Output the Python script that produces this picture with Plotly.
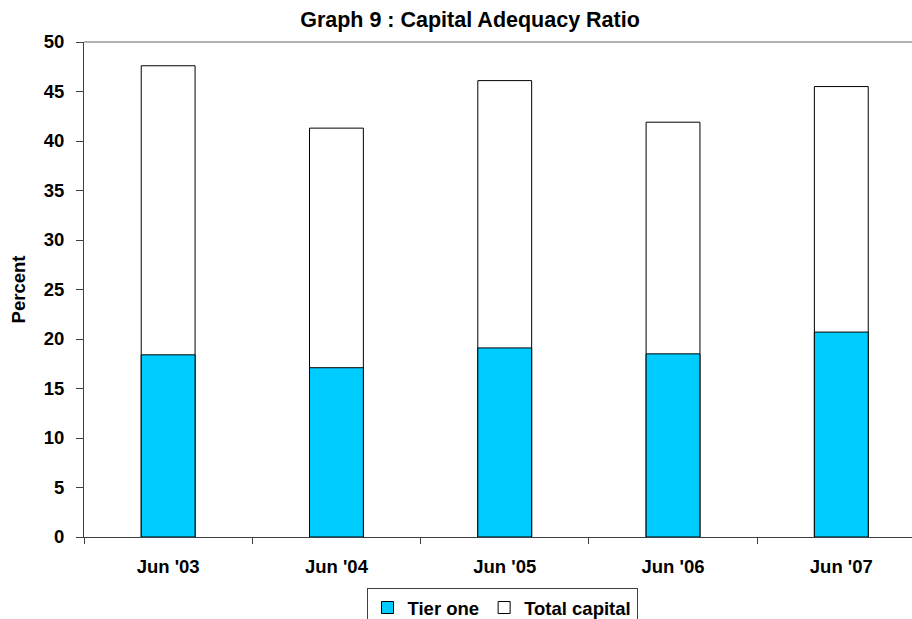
import plotly.graph_objects as go

# Capital adequacy ratios by year (percent)
periods = ["Jun '03", "Jun '04", "Jun '05", "Jun '06", "Jun '07"]
tier_one = [18.4, 17.1, 19.1, 18.5, 20.7]
total_capital = [47.6, 41.3, 46.1, 41.9, 45.5]

FONT = "Liberation Sans, Arial, sans-serif"
W, H = 912, 619
LABEL_SIZE = 18.5

fig = go.Figure()

# Total capital drawn behind, Tier one overlaid in front
fig.add_trace(go.Bar(
    x=periods, y=total_capital, name="Total capital",
    marker=dict(color="white", line=dict(color="black", width=1)),
    width=0.32, legendrank=2,
))
fig.add_trace(go.Bar(
    x=periods, y=tier_one, name="Tier one",
    marker=dict(color="#00CCFF", line=dict(color="black", width=1)),
    width=0.32, legendrank=1,
))

fig.update_layout(
    width=W, height=H,
    barmode="overlay",
    plot_bgcolor="white", paper_bgcolor="white",
    margin=dict(l=84, r=0, t=42, b=82),
    font=dict(family=FONT, size=LABEL_SIZE, color="black"),
    title=dict(
        text="<b>Graph 9 : Capital Adequacy Ratio</b>",
        x=470 / W, xanchor="center", xref="container",
        y=1 - 19 / H, yanchor="middle", yref="container",
        font=dict(family=FONT, size=21.5, color="black"),
    ),
    legend=dict(
        orientation="h",
        xref="container", x=502 / W, xanchor="center",
        yref="container", y=1 - 588 / H, yanchor="top",
        bordercolor="#404040", borderwidth=1, bgcolor="white",
        font=dict(family=FONT, size=LABEL_SIZE, color="black", weight="bold"),
        itemwidth=30, tracegroupgap=0,
    ),
    showlegend=True,
)

fig.update_xaxes(
    range=[-0.5, 4.42],
    showgrid=False, zeroline=False,
    showline=True, linecolor="#404040", linewidth=1,
    ticks="outside", ticklen=6, tickcolor="#404040", tickson="boundaries",
    tickfont=dict(family=FONT, size=LABEL_SIZE, color="black", weight="bold"),
    ticklabelstandoff=13,
    fixedrange=True,
)
fig.update_yaxes(
    range=[0, 50], dtick=5,
    showgrid=False, zeroline=False,
    showline=True, linecolor="#404040", linewidth=1,
    ticks="outside", ticklen=7, tickcolor="#404040",
    tickfont=dict(family=FONT, size=LABEL_SIZE, color="black", weight="bold"),
    ticklabelstandoff=8,
    title=dict(text="<b>Percent</b>", font=dict(family=FONT, size=LABEL_SIZE, color="black"), standoff=13),
    fixedrange=True,
)

# Light border along the top of the plot area
fig.add_shape(type="line", xref="paper", yref="paper", x0=0, x1=1, y0=1, y1=1,
              line=dict(color="#9a9a9a", width=1.5))

fig.write_html("out.html")
